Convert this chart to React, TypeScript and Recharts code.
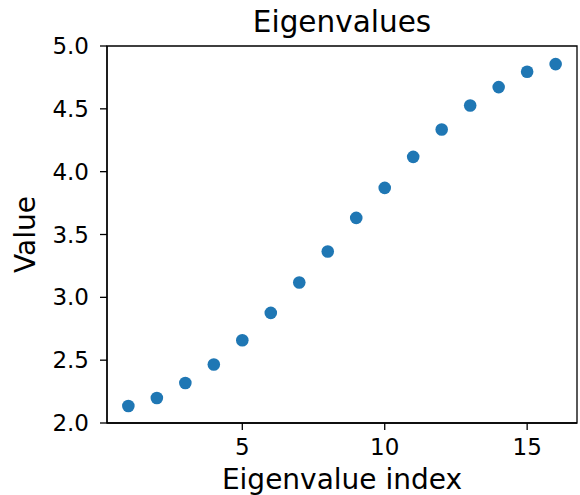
import { ScatterChart, Scatter, XAxis, YAxis, Label, ReferenceArea } from 'recharts';

// eigenvalue index vs value
const indices = [1, 2, 3, 4, 5, 6, 7, 8, 9, 10, 11, 12, 13, 14, 15, 16];
const eigenvalues = [2.135, 2.199, 2.318, 2.465, 2.658, 2.876, 3.118, 3.365, 3.632, 3.871, 4.118, 4.336, 4.527, 4.673, 4.795, 4.856];

const xTicks = [5, 10, 15];
const yTicks = [2.0, 2.5, 3.0, 3.5, 4.0, 4.5, 5.0];
const xDomain = [0.25, 16.75];
const yDomain = [2.0, 5.0];

const FONT = 'DejaVu Sans';
const INK = '#000';

const data = indices.map((index, i) => ({ index, value: eigenvalues[i] }));

const Dot = (props: any) => <circle cx={props.cx} cy={props.cy} r={6.3} fill="#1f77b4" />;

export default function App() {
  return (
    <div style={{ position: 'absolute', left: 0, top: 0, background: '#fff' }}>
      <ScatterChart width={580} height={495} margin={{ top: 46, right: 3, bottom: 0, left: 0 }}>
        <XAxis
          dataKey="index"
          type="number"
          domain={xDomain}
          ticks={xTicks}
          allowDataOverflow
          height={72}
          tickSize={7}
          tickMargin={9}
          axisLine={{ stroke: INK, strokeWidth: 1.3 }}
          tickLine={{ stroke: INK, strokeWidth: 1.3 }}
          tick={{ fill: INK, fontSize: 23, fontFamily: FONT }}
        >
          <Label
            content={(p: any) => {
              const cx = p.viewBox.x + p.viewBox.width / 2;
              return (
                <g>
                  <text x={cx} y={489} textAnchor="middle" fontSize={28} fontFamily={FONT} fill={INK}>
                    Eigenvalue index
                  </text>
                  <text x={cx} y={32} textAnchor="middle" fontSize={29.5} fontFamily={FONT} fill={INK}>
                    Eigenvalues
                  </text>
                </g>
              );
            }}
          />
        </XAxis>
        <YAxis
          dataKey="value"
          type="number"
          domain={yDomain}
          ticks={yTicks}
          allowDataOverflow
          width={107}
          tickSize={7}
          tickMargin={11}
          tickFormatter={(v: number) => v.toFixed(1)}
          axisLine={{ stroke: INK, strokeWidth: 1.3 }}
          tickLine={{ stroke: INK, strokeWidth: 1.3 }}
          tick={{ fill: INK, fontSize: 23, fontFamily: FONT }}
        >
          <Label
            content={(p: any) => {
              const cy = p.viewBox.y + p.viewBox.height / 2;
              return (
                <text x={35} y={cy} transform={`rotate(-90, 35, ${cy})`} textAnchor="middle" fontSize={28} fontFamily={FONT} fill={INK}>
                  Value
                </text>
              );
            }}
          />
        </YAxis>
        {/* full box frame like matplotlib */}
        <ReferenceArea
          x1={xDomain[0]}
          x2={xDomain[1]}
          y1={yDomain[0]}
          y2={yDomain[1]}
          fill="none"
          fillOpacity={0}
          stroke={INK}
          strokeWidth={1.3}
          ifOverflow="visible"
        />
        <Scatter data={data} shape={Dot} isAnimationActive={false} />
      </ScatterChart>
    </div>
  );
}
